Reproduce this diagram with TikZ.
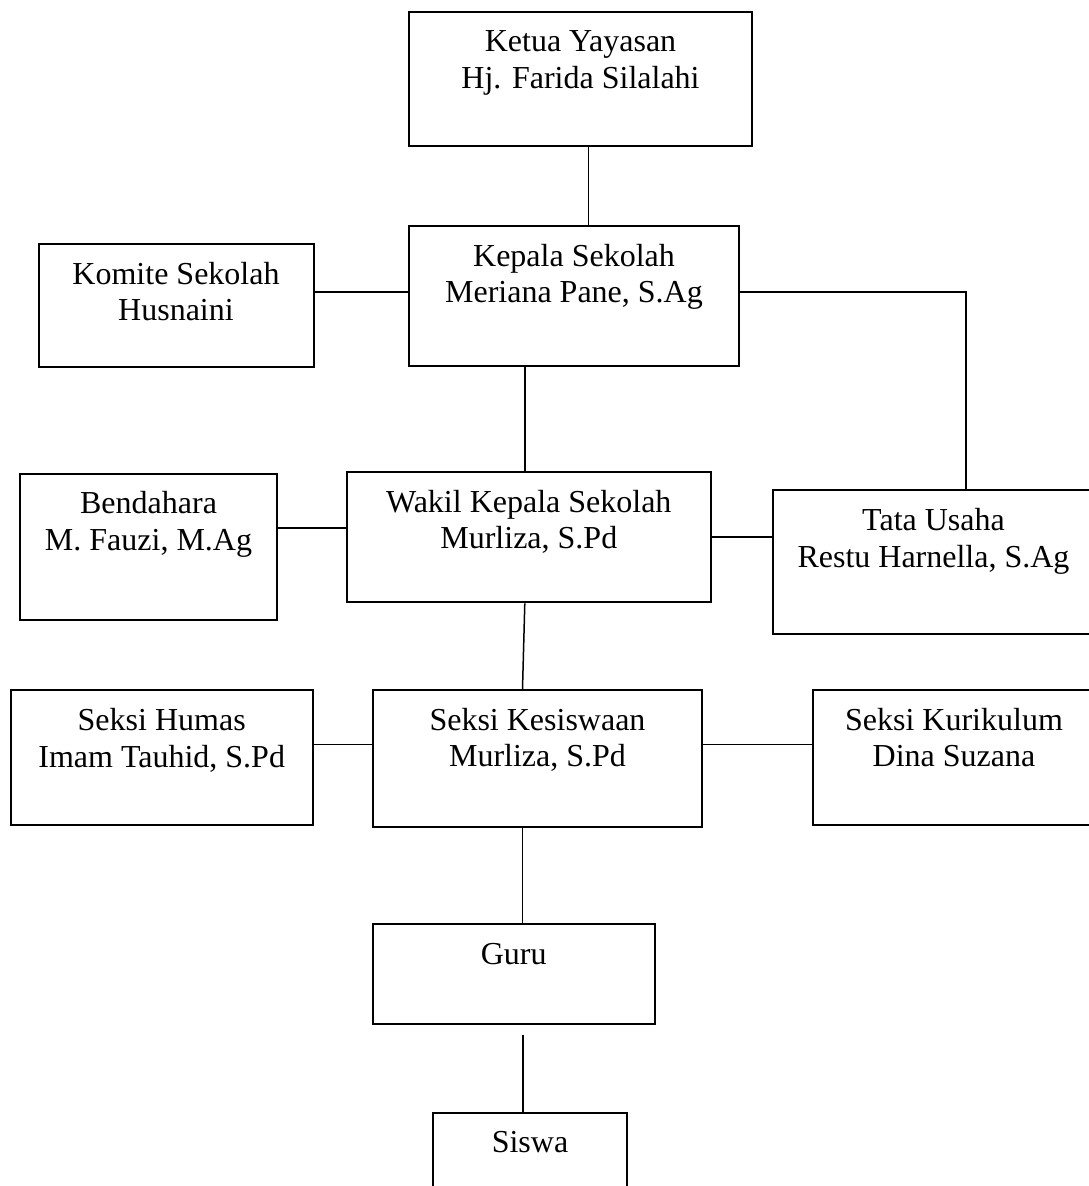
\documentclass[tikz,border=0pt]{standalone}
\usepackage{fontspec}
\setmainfont{Liberation Serif}
\usepackage{tikz}
\usetikzlibrary{positioning}

\begin{document}
\begin{tikzpicture}[x=1pt, y=-1pt,
  unit/.style={draw, line width=2pt, rectangle, anchor=north west, inner sep=0pt,
    align=center, text height=40pt, font=\fontsize{32}{36.8}\selectfont},
  twoline/.style={unit, text height=76.8pt},
  link/.style={line width=1.5pt}]
  \useasboundingbox (0,0) rectangle (1089,1186);
  \clip (0,0) rectangle (1089,1186);
  % boxes
  \node[twoline, minimum width=343pt, text depth=57.7pt] (ketua) at (408,10.7) {Ketua Yayasan\\ Hj. Farida Silalahi};
  \node[twoline, minimum width=330pt, text depth=63.2pt] (kepala) at (408,225) {Kepala Sekolah\\Meriana Pane, S.Ag};
  \node[twoline, minimum width=275pt, text depth=45.9pt] (komite) at (37.5,243) {Komite Sekolah\\Husnaini};
  \node[twoline, minimum width=256.3pt, text depth=69.8pt] (bendahara) at (19.4,472.7) {Bendahara\\M. Fauzi, M.Ag};
  \node[twoline, minimum width=364pt, text depth=53.5pt] (wakil) at (345.8,471) {Wakil Kepala Sekolah\\Murliza, S.Pd};
  \node[twoline, minimum width=322pt, text depth=67.2pt] (tata) at (771.5,489.3) {Tata Usaha\\Restu Harnella, S.Ag};
  \node[twoline, minimum width=302pt, text depth=57.6pt] (humas) at (9.7,689.3) {Seksi Humas\\Imam Tauhid, S.Pd};
  \node[twoline, minimum width=329pt, text depth=59.9pt] (kesiswaan) at (372,689) {Seksi Kesiswaan\\Murliza, S.Pd};
  \node[twoline, minimum width=282pt, text depth=57.9pt] (kurikulum) at (812,689) {Seksi Kurikulum\\Dina Suzana};
  \node[unit, minimum width=281.5pt, text depth=60pt] (guru) at (372,923.3) {Guru};
  \node[unit, minimum width=194pt, text depth=60pt] (siswa) at (432,1111.5) {Siswa};
  % connectors
  \draw[link] ([xshift=8pt]ketua.south) -- ([xshift=8pt]ketua.south |- kepala.north);
  \draw[link] ([yshift=4pt]kepala.west) -- ([yshift=4pt]kepala.west -| komite.east);
  \draw[link] ([yshift=4pt]kepala.east) -| ([xshift=32.5pt]tata.north);
  \draw[link] ([xshift=-49pt]kepala.south) -- ([xshift=-49pt]kepala.south |- wakil.north);
  \draw[link] ([yshift=9pt]wakil.west) -- ([yshift=9pt]wakil.west -| bendahara.east);
  \draw[link] (wakil.east) -- (wakil.east -| tata.west);
  \draw[link] ([xshift=-4pt]wakil.south) -- ([xshift=-15pt]kesiswaan.north);
  \draw[link] ([yshift=14pt]kesiswaan.west) -- ([yshift=14pt]kesiswaan.west -| humas.east);
  \draw[link] ([yshift=14pt]kesiswaan.east) -- ([yshift=14pt]kesiswaan.east -| kurikulum.west);
  \draw[link] ([xshift=-15pt]kesiswaan.south) -- ([xshift=-15pt]kesiswaan.south |- guru.north);
  \draw[link] ([shift={(9pt,-10pt)}]guru.south) -- ([xshift=9pt]guru.south |- siswa.north);
\end{tikzpicture}
\end{document}
